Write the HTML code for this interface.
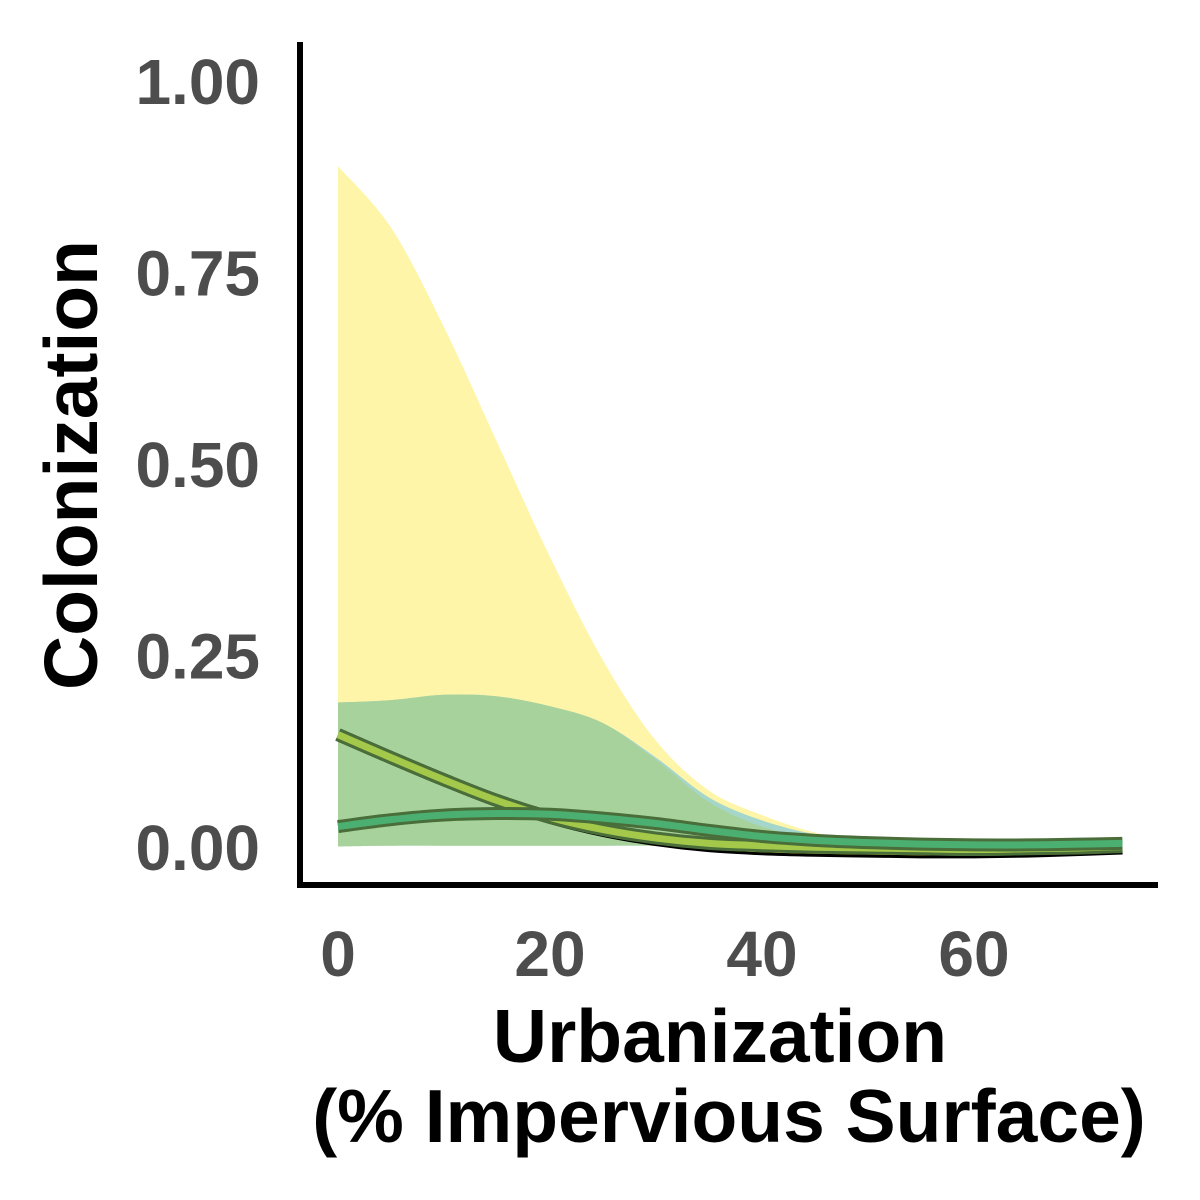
<!DOCTYPE html>
<html><head><meta charset="utf-8"><style>
html,body{margin:0;padding:0;background:#fff;}
svg{display:block;font-family:"Liberation Sans",sans-serif;}
</style></head><body>
<svg id="chart" width="1200" height="1200" viewBox="0 0 1200 1200">
<g id="plot"></g>
<line x1="300" y1="42" x2="300" y2="888" stroke="#000" stroke-width="6"/>
<line x1="297" y1="885" x2="1158" y2="885" stroke="#000" stroke-width="6"/>
<g id="yticks"></g>
<g id="xticks"></g>
<text x="0" y="0" transform="translate(97,465) rotate(-90)" text-anchor="middle" font-size="75" font-weight="bold" fill="#000">Colonization</text>
<text x="720" y="1062" text-anchor="middle" font-size="75" font-weight="bold" fill="#000">Urbanization</text>
<text x="729" y="1142" text-anchor="middle" font-size="75" font-weight="bold" fill="#000">(% Impervious Surface)</text>
</svg>
<script>
const xs = [0,5,10,15,20,25,30,35,40,45,50,55,60,65,70,74];
const yellowUpper = [0.89,0.81,0.68,0.53,0.38,0.245,0.14,0.075,0.043,0.02,0.008,0.004,0.003,0.003,0.003,0.004];
const yellowLower = [0.002,0.004,0.006,0.006,0.005,0.004,0.003,0.002,0.001,0.0,0.0,0.0,0.0,0.0,0.0,0.0];
const greenUpper = [0.19,0.193,0.2,0.198,0.185,0.163,0.115,0.06,0.028,0.013,0.008,0.006,0.005,0.005,0.006,0.007];
const greenLower = [0.002,0.003,0.003,0.003,0.003,0.003,0.003,0.002,0.002,0.002,0.002,0.002,0.002,0.002,0.002,0.002];
const blueUpper = [0.19,0.193,0.2,0.198,0.185,0.163,0.118,0.066,0.036,0.018,0.01,0.007,0.006,0.006,0.007,0.008];
const line1 = [0.148,0.118,0.089,0.062,0.04,0.024,0.013,0.006,0.003,0.001,0.0,-0.001,-0.002,-0.001,0.0,0.002];
const line2 = [0.028,0.037,0.043,0.045,0.044,0.039,0.032,0.023,0.015,0.01,0.007,0.005,0.004,0.004,0.005,0.006];
const line3 = [0.148,0.118,0.089,0.062,0.04,0.023,0.011,0.003,-0.001,-0.003,-0.004,-0.005,-0.005,-0.004,-0.002,0.0];
const yTicks = [0,0.25,0.5,0.75,1.0];
const yTickLabels = ["0.00","0.25","0.50","0.75","1.00"];
const xTicks = [0,20,40,60];
const xTickLabels = ["0","20","40","60"];

const NS="http://www.w3.org/2000/svg";
const sx = v => 338 + v*10.6;
const sy = v => 848 - v*766;
function smooth(pts){
  let d="M"+pts[0][0]+","+pts[0][1];
  for(let i=0;i<pts.length-1;i++){
    const p0=pts[Math.max(0,i-1)],p1=pts[i],p2=pts[i+1],p3=pts[Math.min(pts.length-1,i+2)];
    const c1x=p1[0]+(p2[0]-p0[0])/6,c1y=p1[1]+(p2[1]-p0[1])/6;
    const c2x=p2[0]-(p3[0]-p1[0])/6,c2y=p2[1]-(p3[1]-p1[1])/6;
    d+=" C"+c1x+","+c1y+" "+c2x+","+c2y+" "+p2[0]+","+p2[1];
  }
  return d;
}
const plot=document.getElementById('plot');
function ribbon(up,lo,fill,name){
  const top=xs.map((x,i)=>[sx(x),sy(up[i])]);
  const bot=xs.map((x,i)=>[sx(x),sy(lo[i])]).reverse();
  const sb=smooth(bot);
  let d=smooth(top)+" L"+bot[0][0]+","+bot[0][1]+sb.slice(sb.indexOf(" C"))+" Z";
  const p=document.createElementNS(NS,'path');
  p.setAttribute('d',d);p.setAttribute('fill',fill);
  
  
  plot.appendChild(p);
}
function line(vals,outer,inner,name){
  const d=smooth(xs.map((x,i)=>[sx(x),sy(vals[i])]));
  const a=document.createElementNS(NS,'path');
  a.setAttribute('d',d);a.setAttribute('fill','none');a.setAttribute('stroke',outer);a.setAttribute('stroke-width','13');
  
  
  plot.appendChild(a);
  const b=document.createElementNS(NS,'path');
  b.setAttribute('d',d);b.setAttribute('fill','none');b.setAttribute('stroke',inner);b.setAttribute('stroke-width','7');
  
  
  plot.appendChild(b);
}
ribbon(yellowUpper,yellowLower,'#fff5a8','ribbon-yellow');
ribbon(blueUpper,greenLower,'#a5d6cc','ribbon-blue');
ribbon(greenUpper,greenLower,'#a8d29c','ribbon-green');
line(line3,'#000','#f2e02a','line-low');
line(line1,'#4a6e3a','#a4c84a','line-decreasing');
line(line2,'#4a6e3a','#4caf72','line-flat');
const yt=document.getElementById('yticks');
yTicks.forEach((v,i)=>{
  const t=document.createElementNS(NS,'text');
  t.setAttribute('x',260);t.setAttribute('y',sy(v)+22);t.setAttribute('text-anchor','end');
  t.setAttribute('font-size','64');t.setAttribute('font-weight','bold');t.setAttribute('fill','#4d4d4d');
  t.textContent=yTickLabels[i];
  
  
  yt.appendChild(t);
});
const xt=document.getElementById('xticks');
xTicks.forEach((v,i)=>{
  const t=document.createElementNS(NS,'text');
  t.setAttribute('x',sx(v));t.setAttribute('y',976);t.setAttribute('text-anchor','middle');
  t.setAttribute('font-size','64');t.setAttribute('font-weight','bold');t.setAttribute('fill','#4d4d4d');
  t.textContent=xTickLabels[i];
  
  
  xt.appendChild(t);
});
</script>
</body></html>
